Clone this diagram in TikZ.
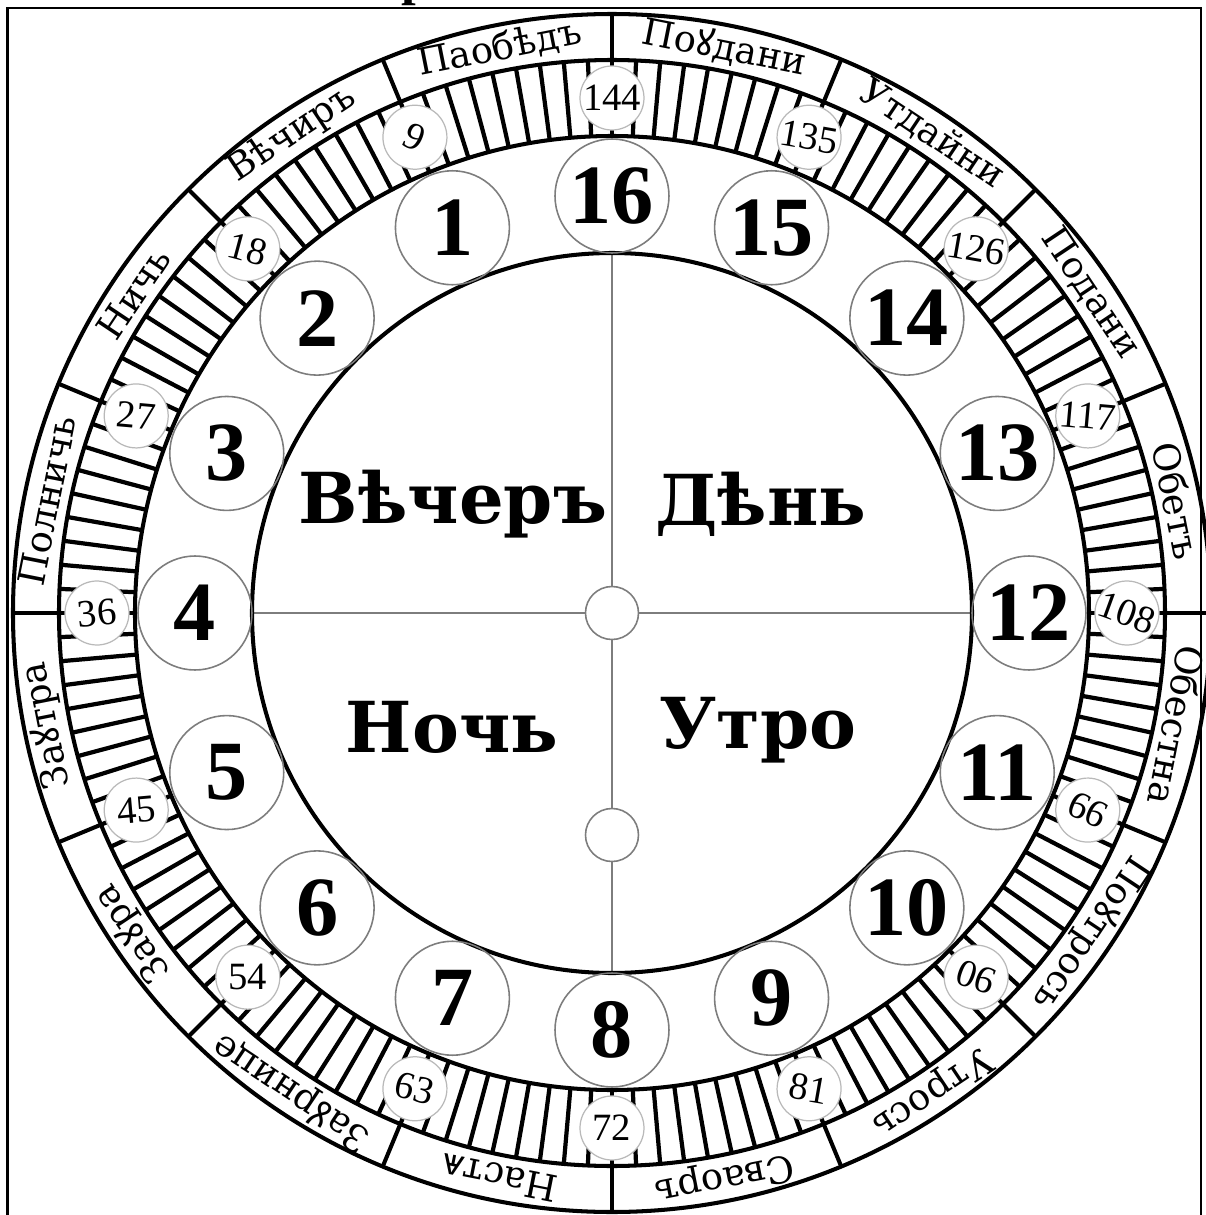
\documentclass[tikz,border=0pt]{standalone}
\usepackage{fontspec}
\setmainfont{Liberation Serif}
\newfontfamily\slavfont{DejaVu Serif}
\newfontfamily\ukfont{Noto Sans}
\usetikzlibrary{positioning}
\definecolor{rimgray}{RGB}{125,125,125}
\definecolor{dotgray}{RGB}{185,185,185}
\newcommand{\ukl}{{\ukfont ꙋ}}
\newcommand{\yusl}{{\ukfont ѧ}}

\begin{document}
\begin{tikzpicture}[x=0.02cm, y=0.02cm,
    rim/.style={line width=2.3pt},
    tickline/.style={line width=2.4pt},
    hourcirc/.style={circle, draw=rimgray, line width=0.9pt, minimum size=2.28cm, inner sep=0pt,
      font=\bfseries\fontsize{48}{48}\selectfont},
    partcirc/.style={circle, draw=dotgray, line width=0.7pt, fill=white, minimum size=1.28cm, inner sep=0pt,
      font=\fontsize{22}{22}\selectfont},
    hubcirc/.style={circle, draw=rimgray, line width=0.9pt, fill=white, minimum size=1.06cm, inner sep=0pt},
    segtext/.style={font=\slavfont\fontsize{21}{21}\selectfont, inner sep=0pt},
    daytext/.style={anchor=base, font=\slavfont\bfseries\fontsize{40}{40}\selectfont}]
  \useasboundingbox (-612,-602) rectangle (594,613);
  \draw[line width=1.7pt] (-604,-640) -- (-604,605) -- (589,605) -- (589,-640);
  \node[anchor=base, font=\bfseries\fontsize{30}{30}\selectfont] (title) at (-196,619) {р};

  % cross in the middle
  \node[hubcirc] (hub) at (0,0) {};
  \node[hubcirc] (hub2) at (0,-222) {};
  \draw[rimgray, line width=1pt] (hub) -- (180:360);
  \draw[rimgray, line width=1pt] (hub) -- (0:360);
  \draw[rimgray, line width=1pt] (hub) -- (90:360);
  \draw[rimgray, line width=1pt] (hub) -- (hub2);
  \draw[rimgray, line width=1pt] (hub2) -- (270:360);

  \foreach \r in {360,477,553,599}{
    \draw[rim] (0,0) circle (\r);
  }
  \foreach \t in {0,...,143}{
    \draw[tickline] (\t*2.5:477) -- (\t*2.5:553);
  }
  \foreach \a in {0,22.5,...,337.5}{
    \draw[rim] (\a:553) -- (\a:599);
  }

  \foreach \lab [count=\k from 0] in {Паобѣдъ, Вѣчиръ, Ничь, Полничь, За\ukl тра, За\ukl ра,
      За\ukl рнице, Наст\yusl, Сваоръ, Утрось, По\ukl трось, Обестна, Обетъ, Подани, Утдайни, По\ukl дани}{
    \node[segtext, rotate={11.25+22.5*\k}] (seg\k) at ({101.25+22.5*\k}:576) {\lab};
  }

  \foreach \n/\rot in {9/-25, 18/-15, 27/-5, 36/5, 45/5, 54/0, 63/-15, 72/0,
      81/-10, 90/160, 99/155, 108/-20, 117/-5, 126/-10, 135/-10, 144/0}{
    \node[partcirc, rotate=\rot] (p\n) at ({90+2.5*\n}:515) {\n};
  }

  \foreach \h in {1,...,16}{
    \node[hourcirc] (h\h) at ({90+22.5*\h}:417) {\h};
  }

  \node[daytext] (evening) at (-159,90) {Вѣчеръ};
  \node[daytext] (day) at (149,88) {Дѣнь};
  \node[daytext] (night) at (-160,-139) {Ночь};
  \node[daytext] (morning) at (146,-135) {Утро};
\end{tikzpicture}
\end{document}
